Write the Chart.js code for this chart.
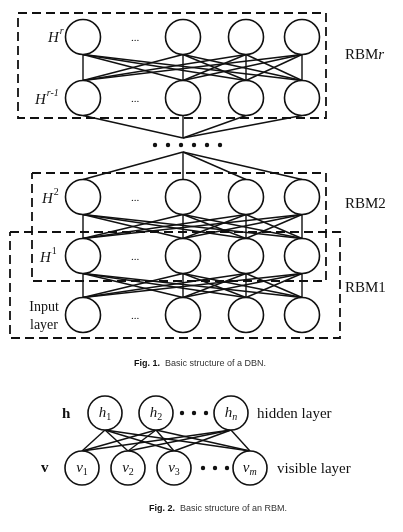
<!DOCTYPE html>
<html>
<head>
<meta charset="utf-8">
<script src="https://cdn.jsdelivr.net/npm/chart.js@4/dist/chart.umd.min.js"></script>
<style>
  html, body { margin: 0; padding: 0; background: #fff; }
  #wrap { width: 403px; height: 532px; }
</style>
</head>
<body>
<div id="wrap"><canvas id="c"></canvas></div>
<script>
// Fig. 1 (DBN) layers: column x and row y
const dbnCols = [83, 183, 246, 302];
const dbnRows = [37, 98, 197, 256, 315]; // Hr, Hr-1, H2, H1, input
const dbnLinks = [[0, 1], [2, 3], [3, 4]]; // fully connected layer pairs
const dbnR = 17.5;
const dbnDots = [155, 168, 181, 194, 207, 220];
const dbnDotY = 145;
const dbnHub = [183, 138, 183, 152]; // lines converge to / spread from
const boxes = [
  [18, 13, 326, 118],
  [32, 173, 326, 281],
  [10, 232, 340, 338]
];
const layerLabels = [
  { base: 'H', sup: 'r', x: 48, y: 42 },
  { base: 'H', sup: 'r-1', x: 35, y: 104 },
  { base: 'H', sup: '2', x: 42, y: 203 },
  { base: 'H', sup: '1', x: 40, y: 262 }
];
const rbmLabels = [['RBM', 'r', 345, 59], ['RBM2', '', 345, 208], ['RBM1', '', 345, 292]];

// Fig. 2 (RBM)
const hX = [105, 156, 231];
const hY = 413;
const hNames = [['h', '1'], ['h', '2'], ['h', 'n']];
const vX = [82, 128, 174, 250];
const vY = 468;
const vNames = [['v', '1'], ['v', '2'], ['v', '3'], ['v', 'm']];
const rbmR = 17;
const hDots = [182, 194, 206];
const vDots = [203, 215, 227];

const datasets = [];
const line = (pts, extra) => datasets.push(Object.assign({
  type: 'scatter', data: pts.map(p => ({ x: p[0], y: p[1] })), showLine: true,
  borderColor: '#111', borderWidth: 1.4, pointRadius: 0, order: 2
}, extra || {}));

// DBN edges
dbnLinks.forEach(([a, b]) => {
  dbnCols.forEach(x1 => dbnCols.forEach(x2 => {
    line([[x1, dbnRows[a] + dbnR], [x2, dbnRows[b] - dbnR]]);
  }));
});
dbnCols.forEach(x => {
  line([[x, dbnRows[1] + dbnR], [dbnHub[0], dbnHub[1]]]);
  line([[dbnHub[2], dbnHub[3]], [x, dbnRows[2] - dbnR]]);
});
// RBM edges
hX.forEach(x1 => vX.forEach(x2 => line([[x1, hY + rbmR], [x2, vY - rbmR]])));
// dashed boxes
boxes.forEach(b => line([[b[0], b[1]], [b[2], b[1]], [b[2], b[3]], [b[0], b[3]], [b[0], b[1]]],
  { borderDash: [9, 5], borderWidth: 1.8, order: 3 }));

// nodes
const nodePts = [];
dbnRows.forEach(y => dbnCols.forEach(x => nodePts.push({ x, y, r: dbnR })));
hX.forEach(x => nodePts.push({ x, y: hY, r: rbmR }));
vX.forEach(x => nodePts.push({ x, y: vY, r: rbmR }));
datasets.push({
  type: 'scatter', data: nodePts, order: 0,
  pointRadius: nodePts.map(p => p.r), pointBackgroundColor: '#fff',
  pointBorderColor: '#111', pointBorderWidth: 1.6
});
// dots
const dotPts = dbnDots.map(x => ({ x, y: dbnDotY }))
  .concat(hDots.map(x => ({ x, y: hY })), vDots.map(x => ({ x, y: vY })));
datasets.push({
  type: 'scatter', data: dotPts, order: 0, pointRadius: 2.2,
  pointBackgroundColor: '#111', pointBorderWidth: 0
});

const textPlugin = {
  id: 'texts',
  afterDatasetsDraw(chart) {
    const ctx = chart.ctx, sx = chart.scales.x, sy = chart.scales.y;
    const X = v => sx.getPixelForValue(v), Y = v => sy.getPixelForValue(v);
    const serif = '"Liberation Serif", serif';
    ctx.save();
    ctx.fillStyle = '#111';
    ctx.textBaseline = 'alphabetic';
    ctx.textAlign = 'left';
    layerLabels.forEach(l => {
      ctx.font = 'italic 15px ' + serif;
      ctx.fillText(l.base, X(l.x), Y(l.y));
      const w = ctx.measureText(l.base).width;
      ctx.font = (l.sup === '1' || l.sup === '2' ? '' : 'italic ') + '10px ' + serif;
      ctx.fillText(l.sup, X(l.x) + w + 1, Y(l.y) - 8);
    });
    rbmLabels.forEach(([t, it, x, y]) => {
      ctx.font = '15px ' + serif;
      ctx.fillText(t, X(x), Y(y));
      if (it) {
        const w = ctx.measureText(t).width;
        ctx.font = 'italic 15px ' + serif;
        ctx.fillText(it, X(x) + w, Y(y));
      }
    });
    ctx.font = '14px ' + serif;
    ctx.textAlign = 'center';
    ctx.fillText('Input', X(44), Y(311));
    ctx.fillText('layer', X(44), Y(329));
    ctx.font = '11px ' + serif;
    dbnRows.forEach(y => ctx.fillText('...', X(135), Y(y + 4)));
    // fig 2 node names
    const nameAt = (x, y, n) => {
      ctx.font = 'italic 15px ' + serif;
      const w1 = ctx.measureText(n[0]).width;
      ctx.font = '10px ' + serif;
      const w2 = ctx.measureText(n[1]).width;
      const x0 = X(x) - (w1 + w2) / 2;
      ctx.textAlign = 'left';
      ctx.font = 'italic 15px ' + serif;
      ctx.fillText(n[0], x0, Y(y + 4));
      ctx.font = (n[1] === 'n' || n[1] === 'm' ? 'italic ' : '') + '10px ' + serif;
      ctx.fillText(n[1], x0 + w1, Y(y + 7));
    };
    hX.forEach((x, i) => nameAt(x, hY, hNames[i]));
    vX.forEach((x, i) => nameAt(x, vY, vNames[i]));
    ctx.font = 'bold 15px ' + serif;
    ctx.fillText('h', X(62), Y(hY + 5));
    ctx.fillText('v', X(41), Y(vY + 4));
    ctx.font = '15px ' + serif;
    ctx.fillText('hidden layer', X(257), Y(hY + 5));
    ctx.fillText('visible layer', X(277), Y(vY + 5));
    // captions
    const caption = (bold, rest, cx, y) => {
      ctx.font = 'bold 9px "Liberation Sans", sans-serif';
      const w1 = ctx.measureText(bold).width;
      ctx.font = '9px "Liberation Sans", sans-serif';
      const w2 = ctx.measureText(rest).width;
      const x0 = X(cx) - (w1 + w2) / 2;
      ctx.font = 'bold 9px "Liberation Sans", sans-serif';
      ctx.fillText(bold, x0, Y(y));
      ctx.font = '9px "Liberation Sans", sans-serif';
      ctx.fillStyle = '#333';
      ctx.fillText(rest, x0 + w1, Y(y));
      ctx.fillStyle = '#111';
    };
    caption('Fig. 1.', '  Basic structure of a DBN.', 200, 366);
    caption('Fig. 2.', '  Basic structure of an RBM.', 218, 511);
    ctx.restore();
  }
};

new Chart(document.getElementById('c'), {
  data: { datasets },
  options: {
    responsive: true, maintainAspectRatio: false, animation: false,
    layout: { padding: 0, autoPadding: false },
    plugins: { legend: { display: false }, tooltip: { enabled: false } },
    scales: {
      x: { type: 'linear', min: 0, max: 403, display: false },
      y: { type: 'linear', min: 0, max: 532, reverse: true, display: false }
    }
  },
  plugins: [textPlugin]
});
</script>
</body>
</html>
